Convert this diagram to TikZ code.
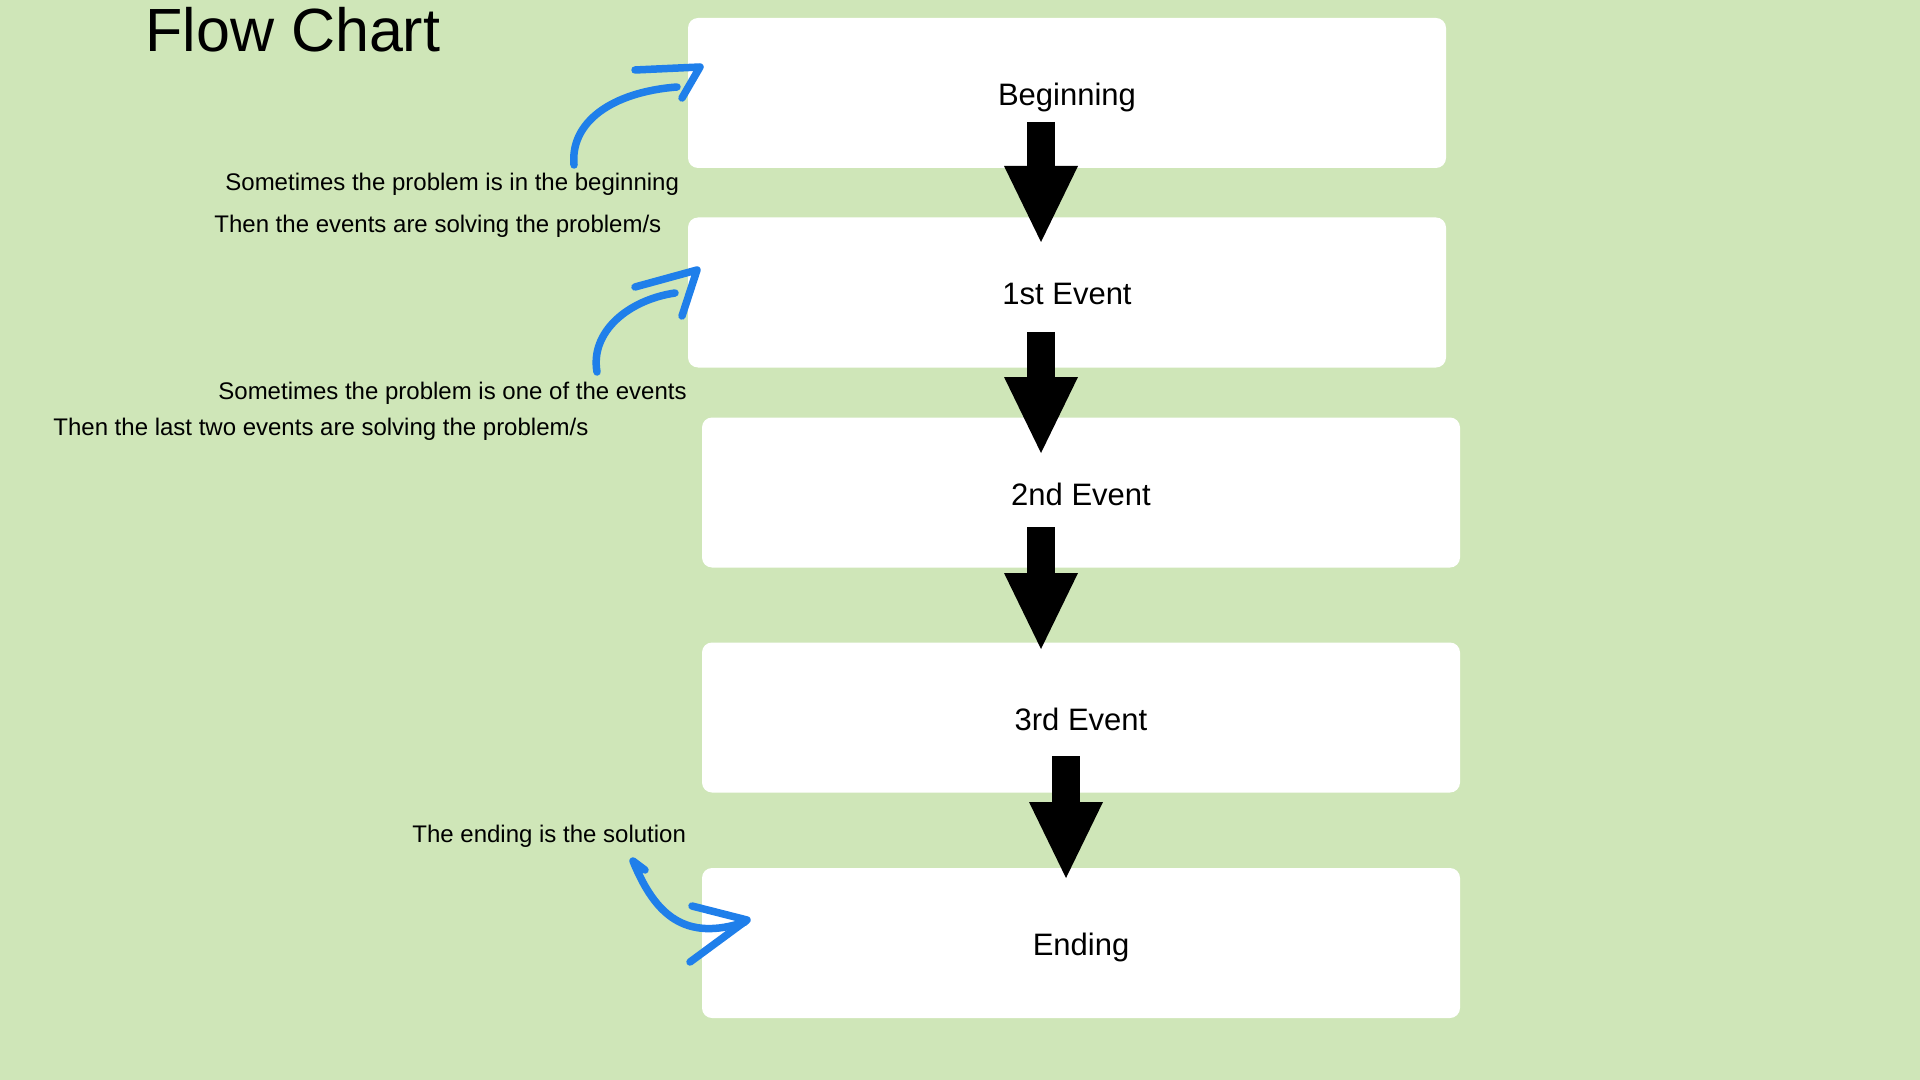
\documentclass[tikz,border=0pt]{standalone}
\usepackage{fontspec}
\setmainfont{Liberation Sans}
\usetikzlibrary{arrows.meta}
\definecolor{paper}{HTML}{CFE6B8}
\definecolor{pen}{HTML}{1F7FEA}
\definecolor{ink}{HTML}{000000}
\tikzset{
  stagebox/.style={fill=white,rounded corners=5pt,minimum width=379pt,minimum height=75pt,inner sep=0pt,text height=12.5pt,text depth=0pt,font=\fontsize{15.5}{18}\selectfont,text=ink},
  note/.style={anchor=base west,inner sep=0pt,font=\fontsize{12}{14}\selectfont,text=ink},
  blockarrow/.style={line width=14pt,draw=ink,-{Triangle[length=38pt,width=37pt,line width=0pt]}},
  penline/.style={draw=pen,line width=3.75pt,line cap=round,line join=round}
}
\begin{document}
\begin{tikzpicture}[
    x=0.5pt,y=-0.5pt,
    heading/.style={anchor=base west,inner sep=0pt,font=\fontsize{30.5}{36}\selectfont,text=ink}
  ]
    \useasboundingbox (0,0) rectangle (1920,1080);
    \fill[paper] (0,0) rectangle (1920,1080);

    \node[heading] (title) at (145,52) {Flow Chart};

    \node[stagebox] (begin) at (1067,93) {Beginning};
    \node[stagebox] (ev1) at (1067,292.5) {1st Event};
    \node[stagebox] (ev2) at (1081,492.5) {2nd Event};
    \node[stagebox] (ev3) at (1081,717.5) {3rd Event};
    \node[stagebox] (ending) at (1081,943) {Ending};

    \coordinate (a1s) at (1041,122); \coordinate (a1e) at (1041,242);
    \coordinate (a2s) at (1041,332); \coordinate (a2e) at (1041,453);
    \coordinate (a3s) at (1041,527); \coordinate (a3e) at (1041,649);
    \coordinate (a4s) at (1066,756); \coordinate (a4e) at (1066,878);
    \draw[blockarrow] (a1s) -- (a1e);
    \draw[blockarrow] (a2s) -- (a2e);
    \draw[blockarrow] (a3s) -- (a3e);
    \draw[blockarrow] (a4s) -- (a4e);

    \node[note] (n1) at (225,191) {Sometimes the problem is in the beginning};
    \node[note] (n2) at (214,233) {Then the events are solving the problem/s};
    \node[note] (n3) at (218,400) {Sometimes the problem is one of the events};
    \node[note] (n4) at (53,435) {Then the last two events are solving the problem/s};
    \node[note] (n5) at (412,842) {The ending is the solution};

    \draw[penline] (574,165) .. controls (570,122) and (612,92) .. (677,87);
    \draw[penline] (635,70) -- (700,67) -- (682,98);
    \draw[penline] (597,372) .. controls (590,332) and (628,300) .. (675,293);
    \draw[penline] (635,287) -- (697,270) -- (682,316);
    \draw[penline] (645,870) -- (633,861) .. controls (655,915) and (685,942) .. (745,922);
    \draw[penline] (692,906) -- (747,920) -- (690,962);
  \end{tikzpicture}
\end{document}
